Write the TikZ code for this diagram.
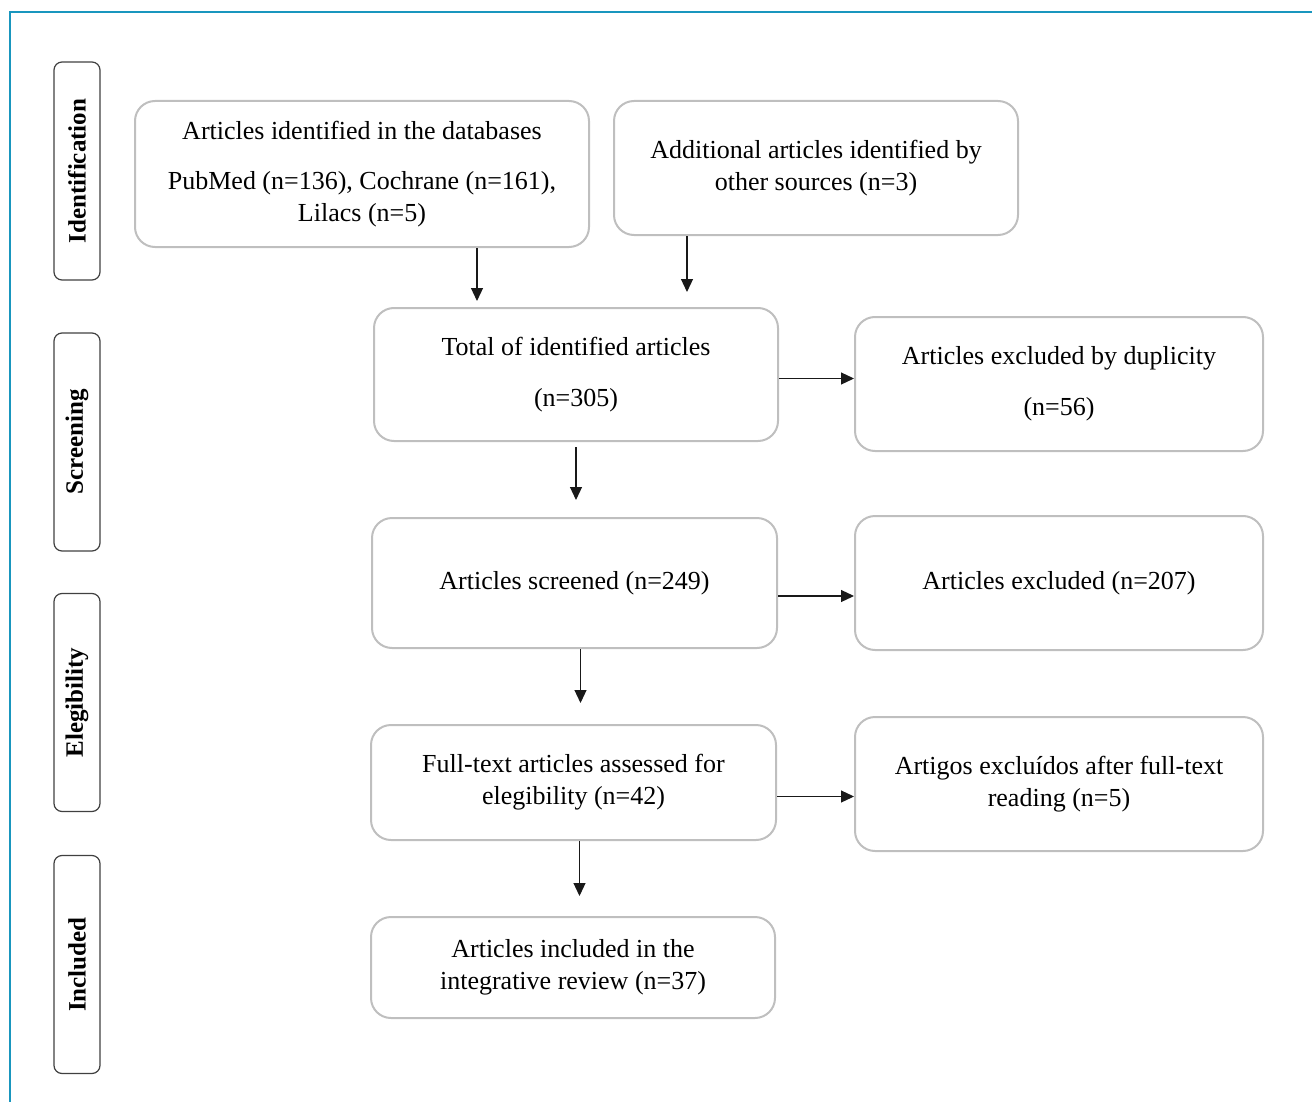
\documentclass[tikz,border=0pt]{standalone}
\usepackage{fontspec}
\setmainfont{Liberation Serif}
\usetikzlibrary{arrows.meta}
\definecolor{marco}{RGB}{25,150,190}

\begin{document}
\begin{tikzpicture}[x=0.5pt, y=-0.5pt,
    caja/.style={draw=black!25, line width=1pt, rounded corners=10pt, align=center, inner sep=2pt, font=\fontsize{13}{16}\selectfont},
    fase/.style={draw=black!75, line width=0.6pt, rounded corners=4pt, rotate=90, minimum width=109pt, minimum height=23pt, inner sep=1pt, font=\fontsize{12.5}{15}\selectfont\bfseries},
    flecha/.style={-{Triangle[length=6.5pt,width=6pt]}, line width=0.6pt, black!90}]
            \useasboundingbox (0,0) rectangle (1312,1102);
            \draw[marco, line width=1.2pt] (10,1102) -- (10,12) -- (1312,12);

            % Fases
            \node[fase] (ident) at (77,171) {Identification};
            \node[fase] (cribado) at (77,442) {Screening};
            \node[fase] (eleg) at (77,702.5) {Elegibility};
            \node[fase] (inclu) at (77,964.5) {Included};

            % Cajas
            \node[caja, minimum width=227pt, minimum height=73pt] (db) at (362,174) {Articles identified in the databases\\[9pt] PubMed (n=136), Cochrane (n=161),\\ Lilacs (n=5)};
            \node[caja, minimum width=202pt, minimum height=67pt] (otras) at (816,168) {Additional articles identified by\\ other sources (n=3)};
            \node[caja, minimum width=202pt, minimum height=66.5pt] (total) at (576,374.5) {Total of identified articles\\[9.5pt] (n=305)};
            \node[caja, minimum width=204pt, minimum height=67pt] (dup) at (1059,384) {Articles excluded by duplicity\\[9.5pt] (n=56)};
            \node[caja, minimum width=202.5pt, minimum height=65pt] (cribados) at (574.5,583) {Articles screened (n=249)};
            \node[caja, minimum width=204pt, minimum height=67pt] (excl) at (1059,583) {Articles excluded (n=207)};
            \node[caja, minimum width=202.5pt, minimum height=57.5pt] (texto) at (573.5,782.5) {Full-text articles assessed for\\ elegibility (n=42)};
            \node[caja, minimum width=204pt, minimum height=67pt] (leidos) at (1059,784) {Artigos excluídos after full-text\\ reading (n=5)};
            \node[caja, minimum width=202pt, minimum height=50.5pt] (incl) at (573,967.5) {Articles included in the\\ integrative review (n=37)};

            % Flechas
            \draw[flecha, shorten >=3pt] ([xshift=57.5pt]db.south) -- ([xshift=-49.5pt]total.north);
            \draw[flecha, shorten >=7.5pt] ([xshift=-64.5pt]otras.south) -- ([xshift=55.5pt]total.north);
            \draw[flecha, shorten <=2.5pt, shorten >=8.5pt] (total.south) -- (total.south |- cribados.north);
            \draw[flecha] ([yshift=-2pt]total.east) -- ([yshift=-2pt]total.east -| dup.west);
            \draw[flecha, shorten >=10.5pt] ([xshift=3pt]cribados.south) -- ([xshift=3pt]cribados.south |- texto.north);
            \draw[flecha] ([yshift=-6.5pt]cribados.east) -- ([yshift=-6.5pt]cribados.east -| excl.west);
            \draw[flecha, shorten >=10pt] ([xshift=3pt]texto.south) -- ([xshift=3pt]texto.south |- incl.north);
            \draw[flecha] ([yshift=-7pt]texto.east) -- ([yshift=-7pt]texto.east -| leidos.west);
\end{tikzpicture}
\end{document}
